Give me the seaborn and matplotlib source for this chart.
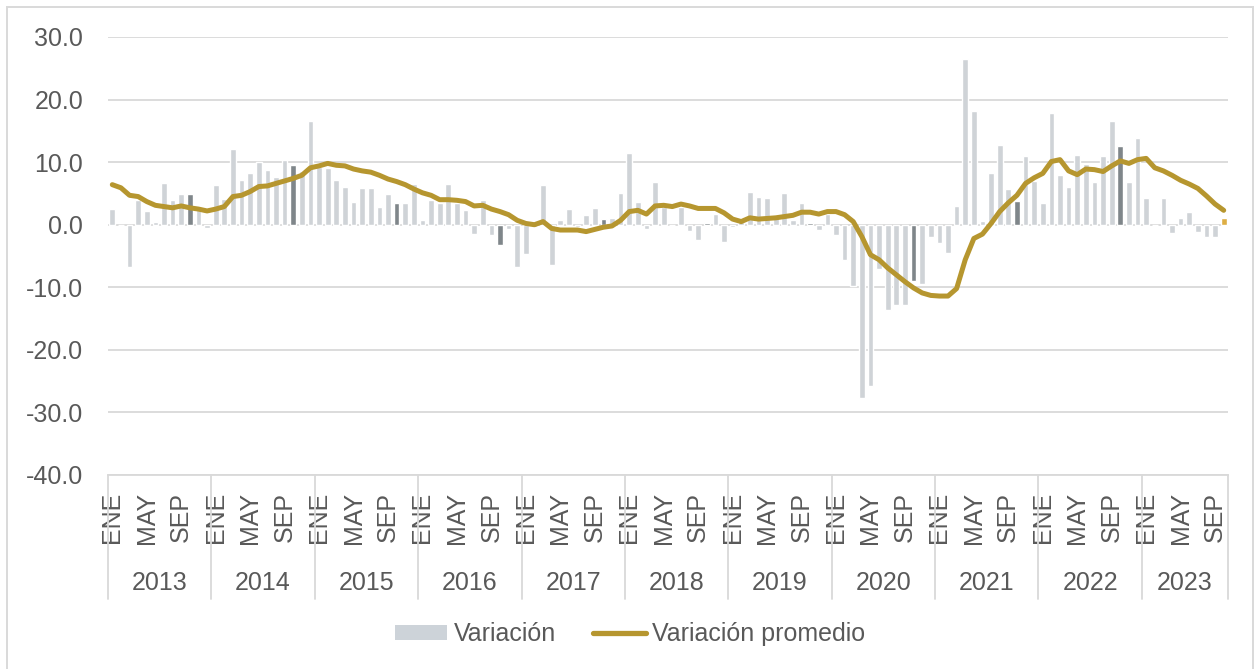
import numpy as np
import pandas as pd
import seaborn as sns
import matplotlib.pyplot as plt
from matplotlib.patches import Patch, Rectangle
from matplotlib.lines import Line2D
import matplotlib.transforms as mtransforms

# monthly data, ENE 2013 - OCT 2023
years = [2013, 2014, 2015, 2016, 2017, 2018, 2019, 2020, 2021, 2022, 2023]
months = ["ENE", "FEB", "MAR", "ABR", "MAY", "JUN", "JUL", "AGO", "SEP", "OCT", "NOV", "DIC"]

variacion = [
    2.5, 0.0, -6.8, 4.0, 2.2, 0.4, 6.6, 3.9, 4.9, 4.9, 2.7, -0.6,        # 2013
    6.3, 4.1, 12.1, 7.1, 8.2, 10.1, 8.7, 7.7, 10.4, 9.5, 8.6, 16.6,      # 2014
    9.3, 9.1, 7.1, 6.1, 3.7, 5.9, 5.9, 2.8, 4.9, 3.4, 3.5, 6.5,          # 2015
    0.7, 3.9, 3.5, 6.5, 3.5, 2.3, -1.5, 4.0, -1.6, -3.2, -0.7, -6.7,     # 2016
    -4.7, -0.3, 6.3, -6.4, 0.7, 2.5, -0.3, 1.6, 2.6, 0.9, 1.1, 5.0,      # 2017
    11.4, 3.7, -0.7, 6.8, 2.9, 0.0, 2.8, -1.0, -2.4, 0.3, 1.7, -2.7,     # 2018
    -0.4, 0.5, 5.3, 4.4, 4.3, 1.0, 5.1, 0.7, 3.4, 0.3, -0.9, 1.7,        # 2019
    -1.6, -5.6, -9.8, -27.7, -25.8, -7.0, -13.6, -12.9, -12.9, -9.0, -9.5, -1.9,  # 2020
    -3.0, -4.5, 3.0, 26.5, 18.2, 0.6, 8.2, 12.7, 5.7, 3.8, 11.0, 7.0,    # 2021
    3.5, 17.9, 8.0, 6.1, 11.1, 9.7, 6.9, 11.0, 16.5, 12.6, 6.9, 13.9,    # 2022
    4.3, 0.0, 4.3, -1.3, 1.1, 2.0, -1.1, -1.9, -1.9, 1.1,                # 2023
]

promedio = [
    6.4, 5.9, 4.7, 4.5, 3.7, 3.1, 2.9, 2.7, 3.0, 2.7, 2.5, 2.2,
    2.5, 2.9, 4.5, 4.7, 5.3, 6.1, 6.2, 6.6, 7.0, 7.4, 7.9, 9.1,
    9.4, 9.8, 9.5, 9.4, 8.9, 8.6, 8.4, 7.9, 7.3, 6.9, 6.4, 5.7,
    5.1, 4.7, 4.0, 4.0, 3.9, 3.7, 3.0, 3.1, 2.5, 2.1, 1.6, 0.7,
    0.2, 0.0, 0.5, -0.6, -0.85, -0.85, -0.85, -1.1, -0.75, -0.4, -0.2, 0.7,
    2.1, 2.3, 1.7, 3.0, 3.1, 2.9, 3.3, 3.0, 2.6, 2.6, 2.6, 1.9,
    0.9, 0.5, 1.1, 0.9, 1.0, 1.1, 1.3, 1.5, 2.0, 2.0, 1.7, 2.1,
    2.1, 1.6, 0.5, -1.9, -4.8, -5.6, -6.9, -8.0, -9.1, -10.1, -10.9, -11.3,
    -11.4, -11.4, -10.2, -5.6, -2.2, -1.5, 0.2, 2.1, 3.5, 4.7, 6.6, 7.5,
    8.2, 10.1, 10.4, 8.6, 8.0, 8.9, 8.8, 8.5, 9.4, 10.2, 9.8, 10.4,
    10.6, 9.1, 8.6, 7.9, 7.1, 6.5, 5.8, 4.6, 3.3, 2.3,
]

n = len(variacion)
idx = list(range(n))
mes = [months[i % 12] for i in idx]
anio = [years[i // 12] for i in idx]
df = pd.DataFrame({"i": idx, "mes": mes, "anio": anio,
                   "variacion": variacion, "promedio": promedio})

bar_light = "#CDD3D9"
bar_dark = "#7D868C"
bar_last = "#F6B82B"
line_col = "#B6962F"
grid_col = "#D9D9D9"
text_col = "#595959"
fs = 18

colors = []
for i in idx:
    if i == n - 1:
        colors.append(bar_last)
    elif mes[i] == "OCT":
        colors.append(bar_dark)
    else:
        colors.append(bar_light)

sns.set_style("white")
plt.rcParams["font.family"] = ["Liberation Sans", "DejaVu Sans"]

fig = plt.figure(figsize=(12.55, 6.69), dpi=100)
ax = fig.add_axes([108 / 1255, 1 - 475 / 669, 1120 / 1255, 438 / 669])

sns.barplot(data=df, x="i", y="variacion", hue="i", palette=colors,
            legend=False, width=0.66, ax=ax, zorder=2)
sns.lineplot(data=df, x="i", y="promedio", color=line_col, linewidth=3.6,
             ax=ax, zorder=3)

ax.set_xlim(-0.5, n - 0.5)
ax.set_ylim(-40, 30)
ax.set_yticks(np.arange(-40, 31, 10))
ax.set_yticklabels([f"{v:.1f}" for v in np.arange(-40, 31, 10)],
                   fontsize=fs, color=text_col)
ax.yaxis.grid(True, color=grid_col, linewidth=1.3, zorder=0)
ax.set_axisbelow(True)
for s in ["left", "right", "top"]:
    ax.spines[s].set_visible(False)
ax.spines["bottom"].set_color(grid_col)
ax.spines["bottom"].set_linewidth(1.3)
ax.set_xlabel("")
ax.set_ylabel("")
ax.tick_params(axis="y", length=0, pad=18)

tick_pos = [i for i in idx if mes[i] in ("ENE", "MAY", "SEP")]
ax.set_xticks(tick_pos)
ax.set_xticklabels([mes[i] for i in tick_pos], rotation=90, fontsize=fs,
                   color=text_col)
ax.tick_params(axis="x", length=0, pad=12)

# year labels and separators below the axis
trans = mtransforms.blended_transform_factory(ax.transData, ax.transAxes)
for k, y in enumerate(years):
    start = k * 12
    cnt = min(12, n - start)
    ax.text(start + (cnt - 1) / 2, -0.247, str(y), transform=trans,
            ha="center", va="center", fontsize=fs, color=text_col)
    ax.add_line(Line2D([start - 0.5, start - 0.5], [0, -0.283], transform=trans,
                       color=grid_col, linewidth=1.3, clip_on=False))
ax.add_line(Line2D([n - 0.5, n - 0.5], [0, -0.283], transform=trans,
                   color=grid_col, linewidth=1.3, clip_on=False))

handles = [Patch(facecolor=bar_light, edgecolor="none", label="Variación"),
           Line2D([0], [0], color=line_col, linewidth=3.8, label="Variación promedio")]
fig.legend(handles=handles, loc="center", bbox_to_anchor=(0.502, 1 - 634 / 669),
           ncol=2, frameon=False, fontsize=fs, handlelength=2.1, handleheight=0.55,
           handletextpad=0.25, columnspacing=1.5, labelcolor=text_col)

fig.patches.append(Rectangle((7 / 1255, -0.02), 1246 / 1255, 1.02 - 7 / 669,
                             transform=fig.transFigure, fill=False,
                             edgecolor=grid_col, linewidth=1.4))

fig.savefig("out.png", dpi=100)
